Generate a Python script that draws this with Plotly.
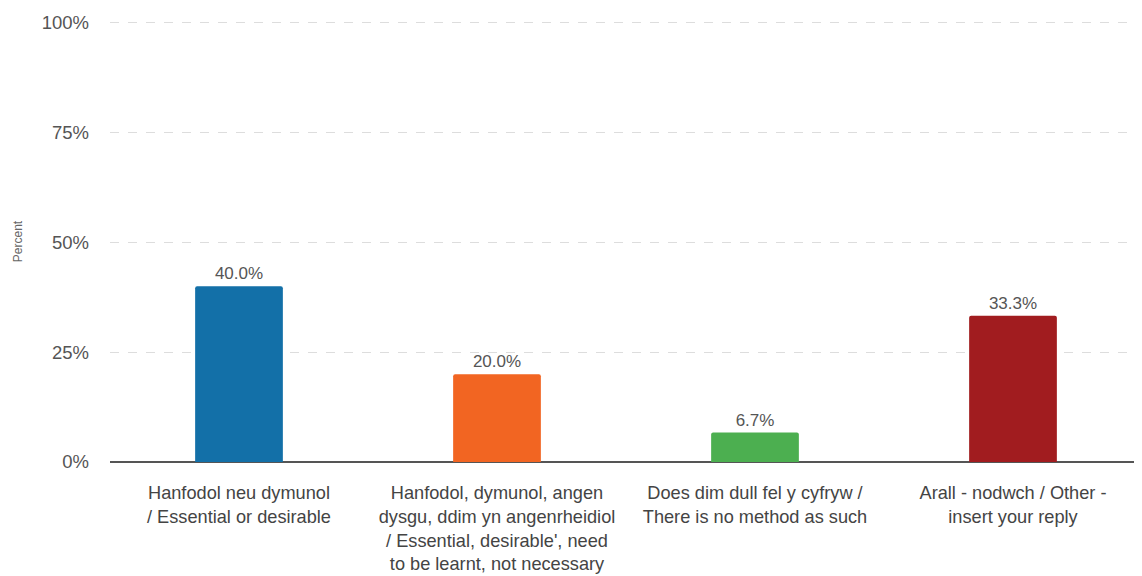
import plotly.graph_objects as go

categories = [
    "Hanfodol neu dymunol<br>/ Essential or desirable",
    "Hanfodol, dymunol, angen<br>dysgu, ddim yn angenrheidiol<br>/ Essential, desirable', need<br>to be learnt, not necessary",
    "Does dim dull fel y cyfryw /<br>There is no method as such",
    "Arall - nodwch / Other -<br>insert your reply",
]
values = [40.0, 20.0, 6.7, 33.3]
colors = ["#1370a8", "#f26522", "#4caf50", "#a11c1f"]
tick_vals = [0, 25, 50, 75, 100]
tick_text = ["0%", "25%", "50%", "75%", "100%"]

fig = go.Figure(
    go.Bar(
        x=categories,
        y=values,
        marker=dict(color=colors, line=dict(width=0), cornerradius=2),
        text=[f"{v:.1f}%" for v in values],
        textposition="outside",
        textfont=dict(size=17, color="#555555"),
        cliponaxis=False,
        hoverinfo="skip",
    )
)

fig.update_layout(
    width=1134,
    height=568,
    margin=dict(l=102, r=0, t=13, b=114),
    paper_bgcolor="white",
    plot_bgcolor="white",
    font=dict(family="Liberation Sans, Arial, sans-serif", color="#555555"),
    bargap=0.66,
    showlegend=False,
)
fig.update_xaxes(
    showgrid=False,
    showline=False,
    tickfont=dict(size=18.2, color="#444444"),
    ticks="",
    ticklabelstandoff=18,
    zeroline=False,
    automargin=False,
)
fig.update_yaxes(
    range=[0, 100.4],
    tickvals=tick_vals,
    ticktext=tick_text,
    showgrid=True,
    gridcolor="#dddddd",
    griddash="dash",
    gridwidth=1,
    zeroline=True,
    zerolinecolor="#555555",
    zerolinewidth=1.5,
    tickfont=dict(size=18.5, color="#555555"),
    ticklabelstandoff=20,
    title=dict(text="Percent", font=dict(size=12, color="#666666"), standoff=16),
    fixedrange=True,
    automargin=False,
)

fig.write_html("out.html")
